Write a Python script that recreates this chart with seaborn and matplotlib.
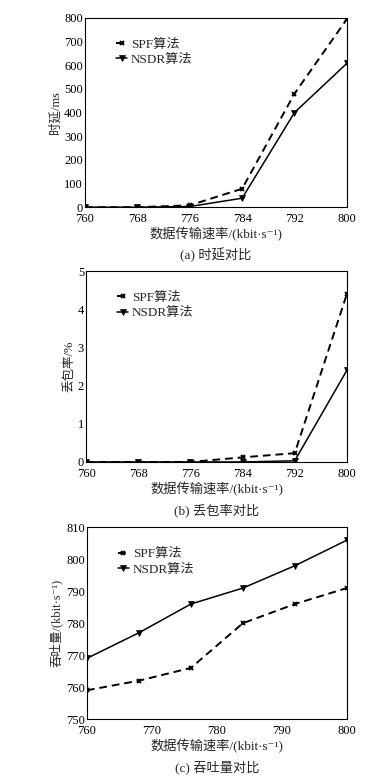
import seaborn as sns
import matplotlib.pyplot as plt

# x values (data rate, kbit/s)
rates = [760, 768, 776, 784, 792, 800]

# (a) delay, ms
delay_spf = [0, 0, 8, 78, 480, 795]
delay_nsdr = [0, 0, 3, 38, 400, 608]

# (b) packet loss, %
loss_spf = [0, 0, 0, 0.12, 0.23, 4.4]
loss_nsdr = [0, 0, 0, 0, 0.03, 2.4]

# (c) throughput, kbit/s
thr_spf = [759, 762, 766, 780, 786, 791]
thr_nsdr = [769, 777, 786, 791, 798, 806]

names = ["SPF算法", "NSDR算法"]
xlabel = "数据传输速率/(kbit·s⁻¹)"

sns.set_theme(style="white")
plt.rcParams["font.family"] = ["Liberation Serif", "Noto Sans CJK SC", "DejaVu Sans"]
plt.rcParams["font.size"] = 8

fig = plt.figure(figsize=(3.88, 7.79), dpi=100)
boxes = [
    [0.219, 0.734, 0.675, 0.243],
    [0.222, 0.407, 0.672, 0.245],
    [0.224, 0.077, 0.670, 0.246],
]

panels = [
    (delay_spf, delay_nsdr, "时延/ms", (0, 800), range(0, 801, 100), rates, "(a) 时延对比"),
    (loss_spf, loss_nsdr, "丢包率/%", (0, 5), range(0, 6), rates, "(b) 丢包率对比"),
    (thr_spf, thr_nsdr, "吞吐量/(kbit·s⁻¹)", (750, 810), range(750, 811, 10),
     range(760, 801, 10), "(c) 吞吐量对比"),
]

for box, (spf, nsdr, ylab, ylim, yticks, xticks, cap) in zip(boxes, panels):
    ax = fig.add_axes(box)
    sns.lineplot(x=rates, y=spf, color="black", linestyle=(0, (4, 2.5)),
                 marker="x", markersize=3.5, markeredgewidth=1.4,
                 markeredgecolor="black", linewidth=1.4, ax=ax, label=names[0])
    sns.lineplot(x=rates, y=nsdr, color="black", linestyle="-",
                 marker="v", markersize=5, markeredgewidth=0.5,
                 markeredgecolor="black", linewidth=1.1, ax=ax, label=names[1])
    ax.set_xlim(760, 800)
    ax.set_ylim(*ylim)
    ax.set_xticks(list(xticks))
    ax.set_yticks(list(yticks))
    ax.tick_params(direction="in", length=2.5, width=0.6, labelsize=9,
                   colors="black")
    ax.tick_params(axis="x", pad=4.5)
    ax.tick_params(axis="y", pad=1.5)
    for s in ax.spines.values():
        s.set_color("black")
        s.set_linewidth(0.8)
    ax.set_xlabel(xlabel, fontsize=9.5, labelpad=1.5)
    ax.set_ylabel(ylab, fontsize=9, labelpad=2)
    ax.text(0.5, -0.215, cap, transform=ax.transAxes, ha="center", va="top",
            fontsize=9.5)
    ax.legend(loc="upper left", bbox_to_anchor=(0.1, 0.92), frameon=False,
              handlelength=0.8, handletextpad=0.3, labelspacing=0.25,
              fontsize=9.5, borderaxespad=0)

fig.savefig("out.png", dpi=100)
